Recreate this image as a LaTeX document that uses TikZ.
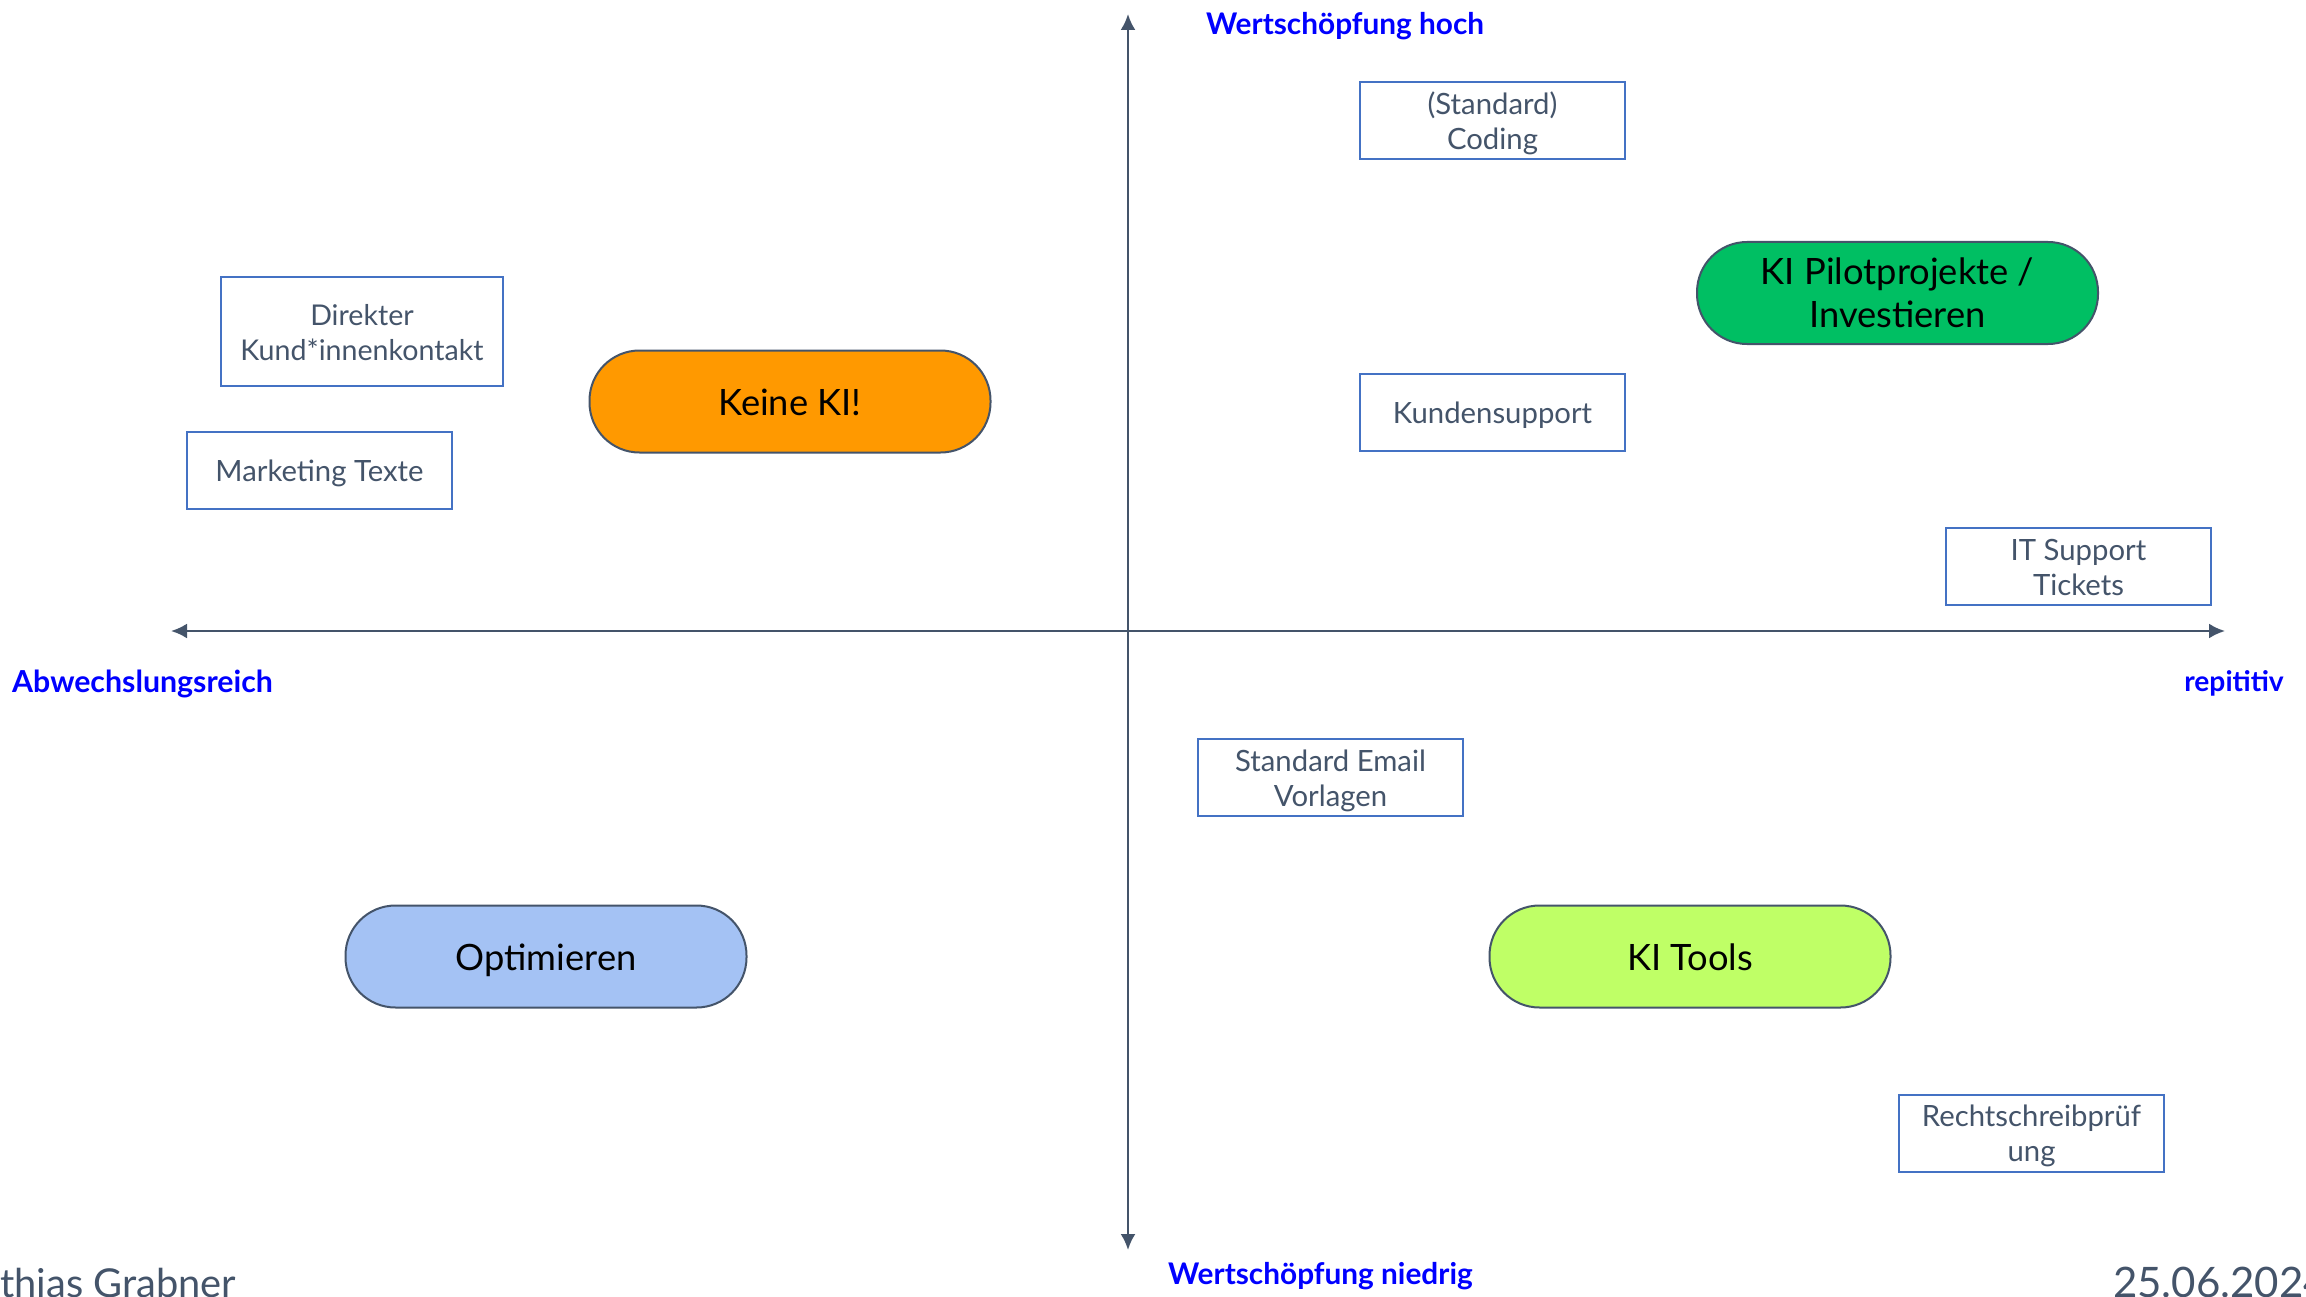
\documentclass[tikz,border=0pt]{standalone}
\usepackage{fontspec}
\setmainfont{Lato}
\usetikzlibrary{arrows.meta}
\definecolor{ink}{HTML}{44546A}
\definecolor{boxline}{HTML}{4472C4}
\definecolor{pillline}{HTML}{44546A}
\definecolor{cOrange}{HTML}{FF9900}
\definecolor{cGreen}{HTML}{00BF63}
\definecolor{cBlue}{HTML}{A4C2F4}
\definecolor{cLime}{HTML}{BFFF66}
\newcommand\boxtop{\rule{0pt}{28.5pt}}
\newcommand\boxend{\rule[-6.5pt]{0pt}{28pt}}
\newcommand\onestrut{\rule[-6.5pt]{0pt}{35pt}}
\newcommand\pillstrut{\rule[-7.5pt]{0pt}{43pt}}
\newcommand\pilottop{\rule{0pt}{34pt}}
\newcommand\pilotend{\rule[-9pt]{0pt}{32pt}}
\tikzset{
  taskbox/.style={draw=boxline,line width=2pt,fill=white,text=ink,align=center,inner sep=0pt,
    minimum width=265pt,minimum height=77pt,font=\fontsize{29.3}{35}\selectfont},
  pill/.style={draw=pillline,line width=2pt,rounded corners=50pt,text=black,align=center,inner sep=0pt,
    minimum width=401pt,minimum height=102pt,font=\fontsize{36.3}{43}\selectfont},
  axislabel/.style={text=blue,inner sep=0pt,font=\fontsize{29.8}{34}\selectfont\bfseries},
  footer/.style={text=ink,inner sep=0pt,font=\fontsize{39.8}{47}\selectfont},
  axisline/.style={draw=ink,line width=2.4pt,{Latex[length=16pt,width=15pt]}-{Latex[length=16pt,width=15pt]}}
}
\begin{document}
\begin{tikzpicture}[x=1pt,y=-1pt]
\useasboundingbox (0,0) rectangle (2306,1297);
\fill[white] (0,0) rectangle (2306,1297);
\coordinate (left) at (171,631);
\coordinate (right) at (2225,631);
\coordinate (top) at (1128,14);
\coordinate (bottom) at (1128,1250);
\draw[axisline] (left) -- (right);
\draw[axisline] (top) -- (bottom);
\node[taskbox] (coding) at (1492.5,121) {\boxtop (Standard)\\Coding\boxend};
\node[taskbox] (support) at (1492.5,412.5) {\onestrut Kundensupport\onestrut};
\node[taskbox] (tickets) at (2078.5,566.5) {\boxtop IT Support\\Tickets\boxend};
\node[taskbox] (email) at (1330.5,777.5) {\boxtop Standard Email\\Vorlagen\boxend};
\node[taskbox] (recht) at (2031.5,1133) {\boxtop Rechtschreibprüf\\ung\boxend};
\node[taskbox,minimum width=282pt,minimum height=109pt,font=\fontsize{28.6}{35}\selectfont] (direkt) at (362,331.5) {\boxtop Direkter\\Kund*innenkontakt\boxend};
\node[taskbox] (marketing) at (319.5,470.5) {\onestrut Marketing Texte\onestrut};
\node[pill,fill=cOrange] (keine) at (790,401.5) {\pillstrut Keine KI!\pillstrut};
\node[pill,fill=cGreen] (pilot) at (1897.5,293) {\pilottop KI Pilotprojekte /\\Investieren\pilotend};
\node[pill,fill=cBlue] (opt) at (546,956.5) {\pillstrut Optimieren\pillstrut};
\node[pill,fill=cLime] (tools) at (1690,956.5) {\pillstrut KI Tools\pillstrut};
\node[axislabel,anchor=west] (hoch) at (1206,26.5) {Wertschöpfung hoch};
\node[axislabel,anchor=west,font=\fontsize{30.3}{34}\selectfont\bfseries] (abw) at (12,684) {Abwechslungsreich};
\node[axislabel,anchor=east,font=\fontsize{28.2}{34}\selectfont\bfseries] (rep) at (2284,683.5) {repititiv};
\node[axislabel,anchor=west] (nied) at (1168,1276) {Wertschöpfung niedrig};
\begin{scope}
\clip (0,0) rectangle (2306,1297);
\node[footer,anchor=base west] (name) at (0,1297) {thias Grabner};
\node[footer,anchor=base west,font=\fontsize{42}{47}\selectfont] (date) at (2113,1297) {25.06.2024};
\end{scope}
\end{tikzpicture}
\end{document}
